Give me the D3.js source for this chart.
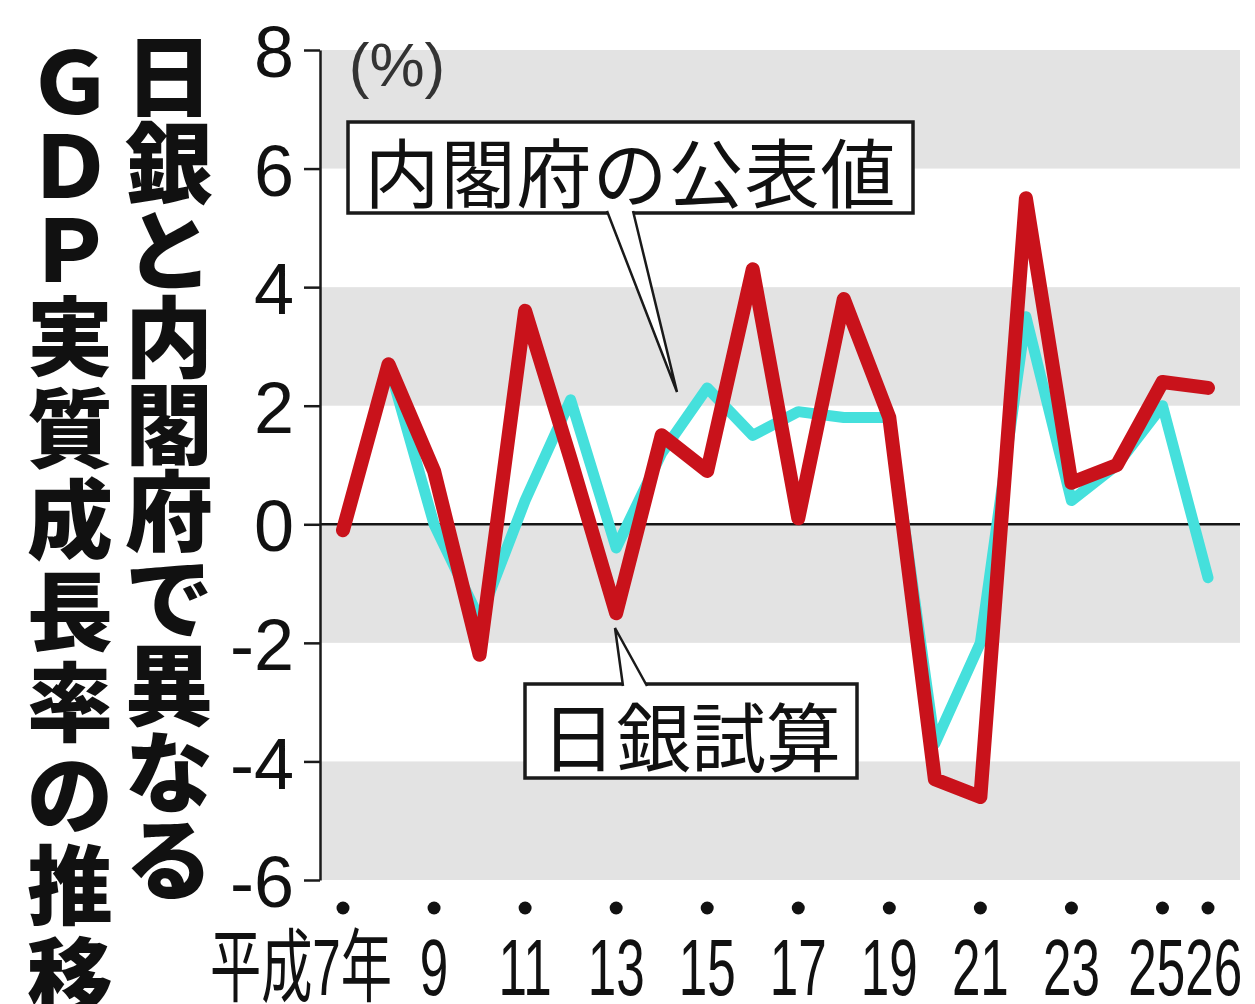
<!DOCTYPE html>
<html><head><meta charset="utf-8">
<script src="https://cdn.jsdelivr.net/npm/d3@7"></script>
<style>
html,body{margin:0;padding:0;background:#fff;}
svg{display:block;}
</style></head>
<body>
<svg id="chart" width="1255" height="1004"></svg>
<script>
// ---- data ----
const years = [7,8,9,10,11,12,13,14,15,16,17,18,19,20,21,22,23,24,25,26];
const cabinetValues = [-0.1,2.7,0.0,-1.6,0.4,2.1,-0.4,1.2,2.3,1.5,1.9,1.8,1.8,-3.7,-2.0,3.5,0.4,1.0,2.0,-0.9];
const bojValues = [-0.1,2.7,0.9,-2.2,3.6,1.1,-1.5,1.5,0.9,4.3,0.1,3.8,1.8,-4.3,-4.6,5.5,0.7,1.0,2.4,2.3];
const yTicks = [8,6,4,2,0,-2,-4,-6];
const xTickYears = [7,9,11,13,15,17,19,21,23,25,26];
const xTickLabels = ["平成7年","9","11","13","15","17","19","21","23","25","26"];
const titleLine1 = "ＧＤＰ実質成長率の推移";
const titleLine2 = "日銀と内閣府で異なる";
const unitLabel = "(%)";
const cabinetLabel = "内閣府の公表値";
const bojLabel = "日銀試算";

// ---- layout ----
const svg = d3.select("#chart");
const plotL = 320, plotR = 1240;
const x = d3.scaleLinear().domain([7,26]).range([343,1208]);
const y = d3.scaleLinear().domain([-6,8]).range([880,50]);
const jp = "'Noto Sans CJK JP','Noto Sans',sans-serif";
const latin = "'Liberation Sans','Noto Sans CJK JP',sans-serif";

// grey bands (every other tick interval, starting at the top)
const bandList = [];
for (let i = 0; i < yTicks.length - 1; i++) {
  if (i % 2 === 0) bandList.push([yTicks[i], yTicks[i+1]]);
}
svg.append("g").selectAll("rect").data(bandList).join("rect")
  .attr("x", plotL).attr("width", plotR - plotL)
  .attr("y", d => y(d[0])).attr("height", d => y(d[1]) - y(d[0]))
  .attr("fill", "#e3e3e3");

// zero line
svg.append("line").attr("x1", plotL).attr("x2", plotR)
  .attr("y1", y(0)).attr("y2", y(0))
  .attr("stroke", "#151515").attr("stroke-width", 2.5);

// lines
const line = d3.line().x((d,i) => x(years[i])).y(d => y(d));
svg.append("path").datum(cabinetValues).attr("d", line)
  .attr("fill","none").attr("stroke","#45e0dc").attr("stroke-width",11)
  .attr("stroke-linejoin","round").attr("stroke-linecap","round");
svg.append("path").datum(bojValues).attr("d", line)
  .attr("fill","none").attr("stroke","#c9121b").attr("stroke-width",14)
  .attr("stroke-linejoin","round").attr("stroke-linecap","round");

// y axis
const yAxis = d3.axisLeft(y).tickValues(yTicks).tickSize(16).tickSizeOuter(0)
  .tickPadding(10).tickFormat(d => String(d));
const gy = svg.append("g").attr("transform", `translate(${plotL},0)`).call(yAxis);
gy.select(".domain").attr("stroke","#1a1a1a").attr("stroke-width",2.5);
gy.selectAll(".tick line").attr("stroke","#1a1a1a").attr("stroke-width",2.5);
gy.selectAll(".tick text").attr("font-family", latin).attr("font-size", 72)
  .attr("fill","#111").attr("dy","0.37em");

// unit label
svg.append("text").attr("x", 397).attr("y", 86).attr("text-anchor","middle")
  .attr("font-family", latin).attr("font-size", 62).attr("fill","#333")
  .text(unitLabel);

// x ticks: dots + labels
svg.append("g").selectAll("circle").data(xTickYears).join("circle")
  .attr("cx", d => x(d)).attr("cy", 908).attr("r", 6.5).attr("fill","#111");
const nT = xTickYears.length;
const lastMid = (x(xTickYears[nT-2]) + x(xTickYears[nT-1])) / 2;
function labelX(d, i) {
  if (i === 0) return x(d) + 49;
  if (i >= nT - 2) return lastMid;
  return x(d);
}
function labelAnchor(d, i) {
  if (i === 0) return "end";
  if (i === nT - 2) return "end";
  if (i === nT - 1) return "start";
  return "middle";
}
const xl = svg.append("g").selectAll("g").data(xTickYears).join("g")
  .attr("transform", (d,i) => `translate(${labelX(d,i)},995) scale(0.64,1)`);
xl.append("text")
  .attr("text-anchor", labelAnchor)
  .attr("font-family", latin).attr("font-size", 80).attr("fill","#111")
  .text((d,i) => xTickLabels[i]);

// title columns
function column(str, cx, startY, fontSize, advLatin, advKanji) {
  let cy = startY;
  const chars = Array.from(str);
  const pos = [];
  chars.forEach((c, i) => {
    pos.push(cy);
    const isLatin = /[Ａ-Ｚ]/.test(c);
    const nextLatin = i + 1 < chars.length && /[Ａ-Ｚ]/.test(chars[i+1]);
    cy += (isLatin ? advLatin : advKanji) / 2 + (nextLatin ? advLatin : advKanji) / 2;
  });
  svg.append("g").selectAll("text").data(chars).join("text")
    .attr("x", cx).attr("y", (d,i) => pos[i])
    .attr("text-anchor","middle").attr("dominant-baseline","central")
    .attr("font-family", jp).attr("font-weight", 900).attr("font-size", fontSize)
    .attr("fill","#111").text(d => d);
}
column(titleLine1, 70, 76, 86, 84, 91.5);
column(titleLine2, 169, 70, 88, 87, 87);

// callouts
function callout(box, wedge, label) {
  const g = svg.append("g");
  g.append("rect").attr("x", box.x).attr("y", box.y).attr("width", box.w).attr("height", box.h)
    .attr("fill","#fff").attr("stroke","#1a1a1a").attr("stroke-width",3.5);
  g.append("path").attr("d", `M${wedge[0][0]},${wedge[0][1]}L${wedge[2][0]},${wedge[2][1]}L${wedge[1][0]},${wedge[1][1]}Z`)
    .attr("fill","#fff");
  g.append("path").attr("d", `M${wedge[0][0]},${wedge[0][1]}L${wedge[2][0]},${wedge[2][1]}L${wedge[1][0]},${wedge[1][1]}`)
    .attr("fill","none").attr("stroke","#1a1a1a").attr("stroke-width",2.5).attr("stroke-linejoin","miter");
  g.append("text").attr("x", box.x + box.w/2).attr("y", box.y + box.h/2 + 2)
    .attr("text-anchor","middle").attr("dominant-baseline","central")
    .attr("font-family", jp).attr("font-size", 75).attr("fill","#111")
    .attr("letter-spacing", box.ls).text(label);
}
callout({x:348, y:122, w:565, h:91, ls:1}, [[607,211],[633,211],[677,392]], cabinetLabel);
callout({x:525, y:684, w:332, h:94, ls:0}, [[623,686],[647,686],[615,628]], bojLabel);
</script>
</body></html>
